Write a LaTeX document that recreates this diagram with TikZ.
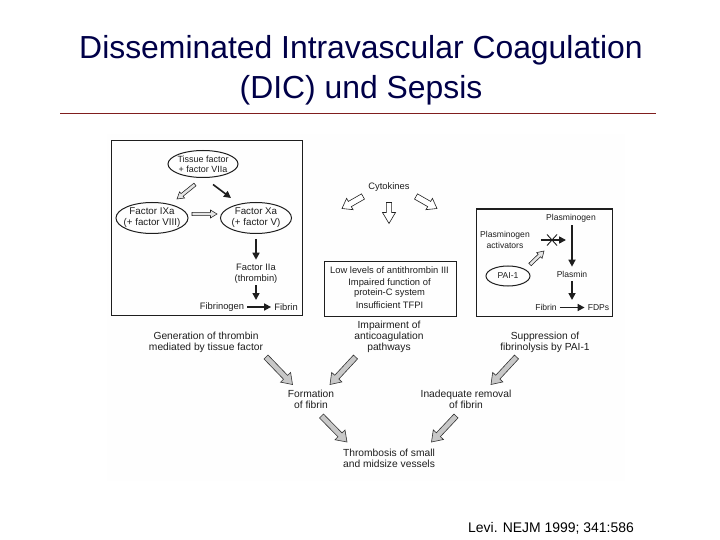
\documentclass[tikz,border=0pt]{standalone}
\usepackage{fontspec}
\setmainfont{Liberation Sans}
\usetikzlibrary{calc,arrows.meta,shapes.geometric}
\definecolor{titleblue}{RGB}{0,0,72}
\definecolor{rulered}{RGB}{128,30,30}
\definecolor{ink}{RGB}{30,30,30}
\definecolor{blockgray}{RGB}{200,200,200}
\definecolor{paper}{RGB}{254,254,254}
\newcommand\fgTF{\fontsize{9}{10}\selectfont}
\newcommand\fgLeft{\fontsize{9.8}{11}\selectfont}
\newcommand\fgTh{\fontsize{9.4}{10.8}\selectfont}
\newcommand\fgRight{\fontsize{8.6}{10.5}\selectfont}
\newcommand\fgMid{\fontsize{9.4}{10}\selectfont}
\newcommand\fgLow{\fontsize{10.3}{11}\selectfont}
% block arrow: #1 style, #2 start, #3 tip, #4 shaft half width, #5 head half width, #6 head length
\newcommand\blockarrow[6][]{%
  \coordinate (ba-h) at ($(#3)!#6!(#2)$);
  \draw[#1] ($(#2)!#4!90:(#3)$) -- ($(ba-h)!#4!90:(#3)$) -- ($(ba-h)!#5!90:(#3)$)
    -- (#3) -- ($(ba-h)!#5!-90:(#3)$) -- ($(ba-h)!#4!-90:(#3)$) -- ($(#2)!#4!-90:(#3)$) -- cycle;}
\begin{document}
\begin{tikzpicture}[x=1bp,y=-1bp,
  lbl/.style={inner sep=0pt, align=center, text=ink},
  boxnode/.style={draw=ink, line width=1.1bp, inner sep=0pt, anchor=north west},
  ell/.style={ellipse, draw=ink, line width=1bp, inner sep=0pt},
  solidarr/.style={draw=ink, line width=1.6bp, -{Triangle[length=7bp,width=7bp]}},
  hollowsmall/.style={draw=ink, fill=gray!20, line width=0.55bp},
  hollowbig/.style={draw=ink, fill=white, line width=0.6bp},
  grayarr/.style={draw=black!80, fill=blockgray, line width=0.6bp}]
\useasboundingbox (0,0) rectangle (720,540);
\fill[paper] (107,134) rectangle (625,481);

% title
\node[text=titleblue, font=\fontsize{32}{38}\selectfont, inner sep=0pt, anchor=base] (t1) at (361,59) {Disseminated Intravascular Coagulation};
\node[text=titleblue, font=\fontsize{32}{38}\selectfont, inner sep=0pt, anchor=base] (t2) at (361,99) {(DIC) und Sepsis};
\draw[rulered, line width=1bp] (60,114) -- (656,114);

% boxes
\node[boxnode, minimum width=191bp, minimum height=175bp] (lbox) at (111,140) {};
\node[boxnode, minimum width=132.5bp, minimum height=54.5bp] (mbox) at (323.5,261) {};
\node[boxnode, minimum width=136bp, minimum height=107bp] (rbox) at (476,208.5) {};

% left box content
\node[ell, minimum width=70bp, minimum height=27bp] (tf) at (203,164) {};
\node[lbl, font=\fgTF] (tf-t) at (tf) {Tissue factor\\+ factor VIIa};
\node[ell, minimum width=72bp, minimum height=31bp] (ixa) at (152,218) {};
\node[lbl, font=\fgLeft] (ixa-t) at (ixa) {Factor IXa\\(+ factor VIII)};
\node[ell, minimum width=71bp, minimum height=31bp] (xa) at (256,218) {};
\node[lbl, font=\fgLeft] (xa-t) at (xa) {Factor Xa\\(+ factor V)};
\node[lbl, font=\fgTh] (iia) at (256,273.5) {Factor IIa\\(thrombin)};
\node[lbl, font=\fgTh] (fgen) at (222,307) {Fibrinogen};
\node[lbl, font=\fgTh] (fib) at (286,307) {Fibrin};

\coordinate (tfix-a) at (195,184.5);
\coordinate (tfix-b) at (177,199);
\blockarrow[hollowsmall]{tfix-a}{tfix-b}{1.7bp}{4bp}{6.5bp}
\coordinate (tfxa-a) at (213,184.5);
\coordinate (tfxa-b) at (231,198);
\draw[solidarr] (tfxa-a) -- (tfxa-b);
\coordinate (ixxa-a) at (192,214);
\coordinate (ixxa-b) at (217,214);
\blockarrow[hollowsmall]{ixxa-a}{ixxa-b}{1.7bp}{4bp}{6.5bp}
\draw[solidarr, shorten <=5bp, shorten >=4bp] (xa) -- (iia);
\coordinate (fjoin) at (256,300);
\draw[solidarr, shorten <=2bp] (iia.south) -- (fjoin);
\draw[solidarr, shorten <=3bp, shorten >=3bp] (fgen) -- (fib);

% cytokines
\node[lbl, font=\fgMid] (cyt) at (389,187.5) {Cytokines};
\coordinate (cl-a) at (363,196.5);
\coordinate (cl-b) at (342,208.5);
\blockarrow[hollowbig]{cl-a}{cl-b}{3bp}{6.5bp}{9bp}
\coordinate (cd-a) at (389,202.5);
\coordinate (cd-b) at (389,223.5);
\blockarrow[hollowbig]{cd-a}{cd-b}{2.6bp}{6.5bp}{11bp}
\coordinate (cr-a) at (416,196.5);
\coordinate (cr-b) at (437,208.5);
\blockarrow[hollowbig]{cr-a}{cr-b}{3bp}{6.5bp}{9bp}

% middle box content
\node[lbl, font=\fgMid] (low) at (389.5,270.5) {Low levels of antithrombin III};
\node[lbl, font=\fgMid] (impf) at (389.5,288) {Impaired function of\\protein-C system};
\node[lbl, font=\fgMid] (tfpi) at (389.5,305.3) {Insufficient TFPI};

% right box content
\node[lbl, font=\fgRight] (plg) at (571,218) {Plasminogen};
\node[lbl, font=\fgRight] (pa) at (505,240) {Plasminogen\\activators};
\node[ell, minimum width=44bp, minimum height=20bp] (pai) at (508,276) {};
\node[lbl, font=\fgRight] (pai-t) at (pai) {PAI-1};
\node[lbl, font=\fgRight] (plm) at (572,274) {Plasmin};
\node[lbl, font=\fgRight] (rfib) at (546,307.5) {Fibrin};
\node[lbl, font=\fgRight] (fdp) at (598.5,307.5) {FDPs};
\coordinate (paend) at (566,240);
\draw[solidarr, shorten <=11bp] (pa.east) -- (paend);
\coordinate (xmark) at (552,240);
\draw[ink, line width=0.9bp] ($(xmark)+(-5,-5.5)$) -- ($(xmark)+(5,5.5)$) ($(xmark)+(-5,5.5)$) -- ($(xmark)+(5,-5.5)$);
\coordinate (pai-a) at (530,264.5);
\coordinate (pai-b) at (544,251);
\blockarrow[hollowsmall]{pai-a}{pai-b}{1.7bp}{4bp}{6.5bp}
\draw[solidarr, shorten <=3bp, shorten >=4bp] (plg.south -| plm) -- (plm);
\coordinate (rjoin) at (572,300);
\draw[solidarr, shorten <=4bp] (plm.south) -- (rjoin);
\draw[solidarr, shorten <=3bp, shorten >=3bp] (rfib) -- (fdp);

% lower labels
\node[lbl, font=\fgLow] (gen) at (206,342) {Generation of thrombin\\mediated by tissue factor};
\node[lbl, font=\fgLow] (imp) at (389,337) {Impairment of\\anticoagulation\\pathways};
\node[lbl, font=\fgLow] (sup) at (545,342) {Suppression of\\fibrinolysis by PAI-1};
\node[lbl, font=\fgLow] (form) at (311,399.5) {Formation\\of fibrin};
\node[lbl, font=\fgLow] (inad) at (466,399.5) {Inadequate removal\\of fibrin};
\node[lbl, font=\fgLow] (thr) at (389,458) {Thrombosis of small\\and midsize vessels};

\coordinate (g1) at (266,357);
\coordinate (g2) at (292.5,384.5);
\blockarrow[grayarr]{g1}{g2}{2.8bp}{7bp}{10bp}
\coordinate (i1) at (355.5,357);
\coordinate (i2) at (330,384.5);
\blockarrow[grayarr]{i1}{i2}{2.8bp}{7bp}{10bp}
\coordinate (s1) at (516.5,357);
\coordinate (s2) at (491,384.5);
\blockarrow[grayarr]{s1}{s2}{2.8bp}{7bp}{10bp}
\coordinate (f1) at (321.5,416);
\coordinate (f2) at (347,442);
\blockarrow[grayarr]{f1}{f2}{2.8bp}{7bp}{10bp}
\coordinate (n1) at (456,416);
\coordinate (n2) at (431.5,442);
\blockarrow[grayarr]{n1}{n2}{2.8bp}{7bp}{10bp}

% citation
\node[inner sep=0pt, font=\fontsize{14}{16}\selectfont, anchor=base] (cite) at (551,532) {Levi. NEJM 1999; 341:586};
\end{tikzpicture}
\end{document}
